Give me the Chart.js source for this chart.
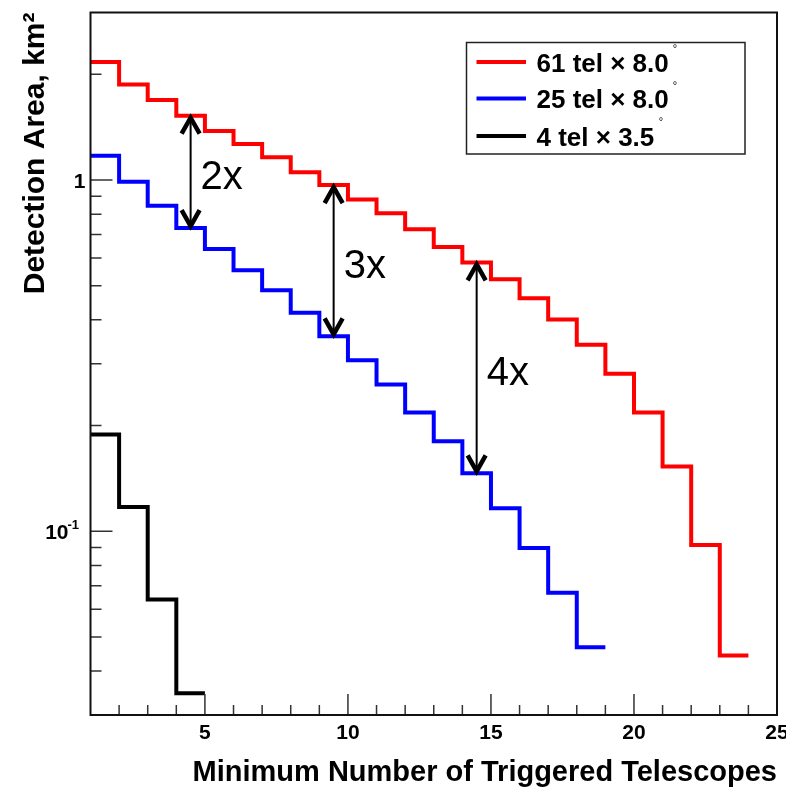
<!DOCTYPE html>
<html>
<head>
<meta charset="utf-8">
<script src="https://cdn.jsdelivr.net/npm/chart.js@4/dist/chart.umd.min.js"></script>
<style>
  html, body { margin: 0; padding: 0; background: #ffffff; }
  canvas { display: block; }
</style>
</head>
<body>
<canvas id="area" width="786" height="790"></canvas>
<script>
// Lower edge of each bin: minimum number of triggered telescopes
const binStart = [1, 2, 3, 4, 5, 6, 7, 8, 9, 10, 11, 12, 13, 14, 15, 16, 17, 18, 19, 20, 21, 22, 23];

// Detection area (km^2) per bin for each array layout
const area61 = [2.17, 1.87, 1.69, 1.525, 1.379, 1.266, 1.161, 1.053, 0.968, 0.881, 0.804, 0.725,
                0.645, 0.583, 0.522, 0.461, 0.401, 0.340, 0.281, 0.218, 0.153, 0.0914, 0.0443];
const area25 = [1.173, 0.989, 0.845, 0.730, 0.636, 0.554, 0.486, 0.419, 0.359, 0.307, 0.262, 0.218,
                0.1805, 0.1463, 0.1164, 0.0896, 0.0669, 0.0468];
const area4 = [0.1886, 0.1173, 0.0640, 0.0346];

const seriesNames = ['61 tel \u00d7 8.0', '25 tel \u00d7 8.0', '4 tel \u00d7 3.5'];
const seriesColors = ['#ff0000', '#0000ff', '#000000'];

// Axis ticks
const xMajorTicks = [5, 10, 15, 20, 25];
const xRange = [1, 25];
const yRange = [0.03, 3];

// Ratio markers between the 61- and 25-telescope curves
const ratioAt = [4.5, 9.5, 14.5];
const ratioText = ['2x', '3x', '4x'];

const FONT = "'Liberation Sans', Arial, Helvetica, sans-serif";

// Histogram outline: one point per bin edge, last bin closed at its upper edge
function histogram(values) {
  const pts = values.map((v, i) => ({ x: binStart[i], y: v }));
  pts.push({ x: binStart[values.length - 1] + 1, y: values[values.length - 1] });
  return pts;
}

const seriesValues = [area61, area25, area4];

const overlay = {
  id: 'overlay',
  afterDraw(chart) {
    const { ctx, chartArea: a, scales: { x, y } } = chart;
    ctx.save();

    // tick marks drawn inside the frame
    ctx.strokeStyle = '#333';
    ctx.lineWidth = 1.5;
    ctx.beginPath();
    for (let v = xRange[0] + 1; v < xRange[1]; v++) {
      const px = x.getPixelForValue(v);
      const len = xMajorTicks.includes(v) ? 21 : 10;
      ctx.moveTo(px, a.bottom);
      ctx.lineTo(px, a.bottom - len);
    }
    for (let d = -2; d <= 0; d++) {
      for (let m = 1; m <= 9; m++) {
        const v = m * Math.pow(10, d);
        if (v <= yRange[0] * 1.0001 || v >= yRange[1] * 0.9999) continue;
        const py = y.getPixelForValue(v);
        const len = m === 1 ? 22 : 11;
        ctx.moveTo(a.left, py);
        ctx.lineTo(a.left + len, py);
      }
    }
    ctx.stroke();

    // frame
    ctx.strokeStyle = '#111';
    ctx.lineWidth = 2;
    ctx.strokeRect(a.left, a.top, a.right - a.left, a.bottom - a.top);

    // y labels (1 and 10^-1)
    ctx.fillStyle = '#000';
    ctx.font = `bold 21px ${FONT}`;
    ctx.textAlign = 'right';
    ctx.textBaseline = 'middle';
    ctx.fillText('1', a.left - 5, y.getPixelForValue(1) + 2);
    const yTenth = y.getPixelForValue(0.1);
    ctx.fillText('10', a.left - 22, yTenth + 2);
    ctx.font = `bold 13px ${FONT}`;
    ctx.textAlign = 'left';
    ctx.fillText('-1', a.left - 23, yTenth - 6);

    // ratio arrows
    ratioAt.forEach((xv, i) => {
      const bin = Math.floor(xv) - binStart[0];
      const px = x.getPixelForValue(xv);
      const yTop = y.getPixelForValue(area61[bin]);
      const yBot = y.getPixelForValue(area25[bin]);
      ctx.strokeStyle = '#000';
      ctx.lineWidth = 2;
      ctx.beginPath();
      ctx.moveTo(px, yTop);
      ctx.lineTo(px, yBot);
      ctx.stroke();
      ctx.lineWidth = 4.5;
      ctx.lineJoin = 'miter';
      ctx.beginPath();
      ctx.moveTo(px - 9, yTop + 18);
      ctx.lineTo(px, yTop + 2);
      ctx.lineTo(px + 9, yTop + 18);
      ctx.moveTo(px - 9, yBot - 18);
      ctx.lineTo(px, yBot - 2);
      ctx.lineTo(px + 9, yBot - 18);
      ctx.stroke();
      ctx.font = `40px ${FONT}`;
      ctx.textAlign = 'left';
      ctx.textBaseline = 'middle';
      ctx.fillStyle = '#000';
      ctx.fillText(ratioText[i], px + 10, (yTop + yBot) / 2 + 6);
    });

    // legend box
    const lx = a.left + 376, ly = 42.5, lw = 278.5, lh = 111.5;
    ctx.strokeStyle = '#222';
    ctx.lineWidth = 1.5;
    ctx.strokeRect(lx, ly, lw, lh);
    const rowY = [62, 98.5, 136];
    const degX = [675, 675, 661];
    const degY = [45, 82, 118];
    seriesNames.forEach((name, i) => {
      ctx.strokeStyle = seriesColors[i];
      ctx.lineWidth = 4;
      ctx.beginPath();
      ctx.moveTo(lx + 10, rowY[i]);
      ctx.lineTo(lx + 59.5, rowY[i]);
      ctx.stroke();
      ctx.fillStyle = '#000';
      ctx.font = `bold 26px ${FONT}`;
      ctx.textAlign = 'left';
      ctx.textBaseline = 'middle';
      ctx.fillText(name, lx + 70, rowY[i] + 2.5);
      ctx.font = `11px ${FONT}`;
      ctx.textAlign = 'center';
      ctx.textBaseline = 'alphabetic';
      ctx.fillText('\u00b0', degX[i], degY[i] + 6.5);
    });

    ctx.restore();
  }
};

new Chart(document.getElementById('area'), {
  type: 'line',
  data: {
    datasets: seriesValues.map((vals, i) => ({
      label: seriesNames[i],
      data: histogram(vals),
      borderColor: seriesColors[i],
      backgroundColor: seriesColors[i],
      borderWidth: 4,
      pointRadius: 0,
      stepped: true,
      fill: false,
      borderJoinStyle: 'miter',
      borderCapStyle: 'butt'
    }))
  },
  options: {
    responsive: false,
    animation: false,
    events: [],
    layout: { padding: { top: 12.5, right: 9, left: 0, bottom: 0 } },
    plugins: { legend: { display: false }, tooltip: { enabled: false } },
    scales: {
      x: {
        type: 'linear',
        min: xRange[0],
        max: xRange[1],
        grid: { display: false, drawTicks: false },
        border: { display: false },
        afterBuildTicks: s => { s.ticks = xMajorTicks.map(v => ({ value: v })); },
        afterFit: s => { s.height = 75; s.paddingLeft = 0; s.paddingRight = 0; },
        ticks: {
          autoSkip: false,
          maxRotation: 0,
          padding: 6,
          color: '#000',
          font: { family: FONT, size: 21, weight: 'bold' },
          callback: v => String(v)
        },
        title: {
          display: true,
          text: 'Minimum Number of Triggered Telescopes',
          align: 'end',
          color: '#000',
          font: { family: FONT, size: 29, weight: 'bold' },
          padding: { top: 0, bottom: 0 }
        }
      },
      y: {
        type: 'logarithmic',
        min: yRange[0],
        max: yRange[1],
        grid: { display: false, drawTicks: false },
        border: { display: false },
        ticks: { display: false },
        afterFit: s => { s.width = 90.5; s.paddingTop = 0; s.paddingBottom = 0; },
        title: {
          display: true,
          text: 'Detection Area, km\u00b2',
          align: 'end',
          color: '#000',
          font: { family: FONT, size: 30, weight: 'bold' },
          padding: { top: 18, bottom: 0 }
        }
      }
    }
  },
  plugins: [overlay]
});
</script>
</body>
</html>
